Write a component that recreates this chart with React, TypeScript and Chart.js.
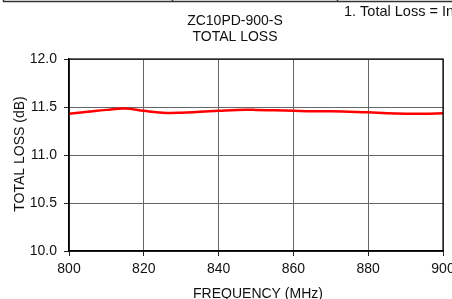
import React, { useEffect, useRef } from "react";
import { Chart, registerables } from "chart.js";

Chart.register(...registerables);

const frequencies = [800, 805, 810, 815, 820, 825, 830, 835, 840, 845, 850, 855, 860, 865, 870, 875, 880, 885, 890, 895, 900];
const totalLoss = [11.43, 11.45, 11.47, 11.485, 11.46, 11.44, 11.44, 11.45, 11.46, 11.47, 11.47, 11.465, 11.46, 11.455, 11.455, 11.45, 11.445, 11.435, 11.43, 11.43, 11.435];
const chartTitle = ["ZC10PD-900-S", "TOTAL LOSS"];
const noteText = "1. Total Loss = Insertion Loss + 10 dB";
const xAxisTitle = "FREQUENCY (MHz)";
const yAxisTitle = "TOTAL LOSS (dB)";

const FONT = "Liberation Sans, Arial, Helvetica, sans-serif";

export default function App() {
  const ref = useRef<HTMLCanvasElement | null>(null);
  useEffect(() => {
    if (!ref.current) return;
    const textPlugin = {
      id: "texts",
      afterDraw(chart: any) {
        const ctx = chart.ctx;
        const a = chart.chartArea;
        ctx.save();
        // plot frame
        ctx.strokeStyle = "#000";
        ctx.lineWidth = 1.2;
        ctx.strokeRect(a.left, a.top, a.right - a.left, a.bottom - a.top);
        // header rule
        ctx.strokeStyle = "#333";
        ctx.lineWidth = 1.5;
        ctx.beginPath();
        ctx.moveTo(3, 1.5);
        ctx.lineTo(452, 1.5);
        ctx.moveTo(3.5, 0);
        ctx.lineTo(3.5, 2);
        ctx.moveTo(172.5, 0);
        ctx.lineTo(172.5, 2);
        ctx.moveTo(337.5, 0);
        ctx.lineTo(337.5, 2);
        ctx.stroke();
        ctx.fillStyle = "#111";
        ctx.font = `14px ${FONT}`;
        ctx.textAlign = "center";
        ctx.textBaseline = "middle";
        ctx.fillText(chartTitle[0], 235, 21);
        ctx.fillText(chartTitle[1], 235, 37.5);
        ctx.textAlign = "left";
        ctx.font = `14.5px ${FONT}`;
        ctx.fillText(noteText, 344, 12);
        ctx.font = `14px ${FONT}`;
        ctx.textAlign = "center";
        ctx.fillText(xAxisTitle, 258, 294);
        ctx.translate(20, 154);
        ctx.rotate(-Math.PI / 2);
        ctx.fillText(yAxisTitle, 0, 0);
        ctx.restore();
      },
    };
    const chart = new Chart(ref.current, {
      type: "line",
      data: {
        datasets: [
          {
            data: frequencies.map((f, i) => ({ x: f, y: totalLoss[i] })),
            borderColor: "#ff0000",
            borderWidth: 2.5,
            pointRadius: 0,
            tension: 0.4,
            fill: false,
          },
        ],
      },
      options: {
        animation: false,
        responsive: false,
        events: [],
        layout: { padding: { top: 59, right: 9, left: 0, bottom: 0 }, autoPadding: false },
        plugins: { legend: { display: false }, tooltip: { enabled: false }, title: { display: false } },
        scales: {
          x: {
            type: "linear",
            min: 800,
            max: 900,
            afterFit: (s: any) => { s.height = 48; s.paddingLeft = 0; s.paddingRight = 0; },
            ticks: { stepSize: 20, color: "#111", font: { size: 14, family: FONT }, padding: 5, maxRotation: 0 },
            grid: { color: "#666", lineWidth: 1, tickLength: 5, tickColor: "#222" },
            border: { color: "#000", width: 1.2 },
          },
          y: {
            min: 10,
            max: 12,
            afterFit: (s: any) => { s.width = 69; s.paddingTop = 0; s.paddingBottom = 0; },
            ticks: { stepSize: 0.5, color: "#111", font: { size: 14, family: FONT }, padding: 7, callback: (v: any) => Number(v).toFixed(1) },
            grid: { color: "#666", lineWidth: 1, tickLength: 5, tickColor: "#222" },
            border: { color: "#000", width: 1.2 },
          },
        },
      },
      plugins: [textPlugin],
    });
    return () => chart.destroy();
  }, []);
  return (
    <div style={{ position: "fixed", left: 0, top: 0, width: 452, height: 299, background: "#fff" }}>
      <canvas ref={ref} width={452} height={299} style={{ width: 452, height: 299 }} />
    </div>
  );
}
